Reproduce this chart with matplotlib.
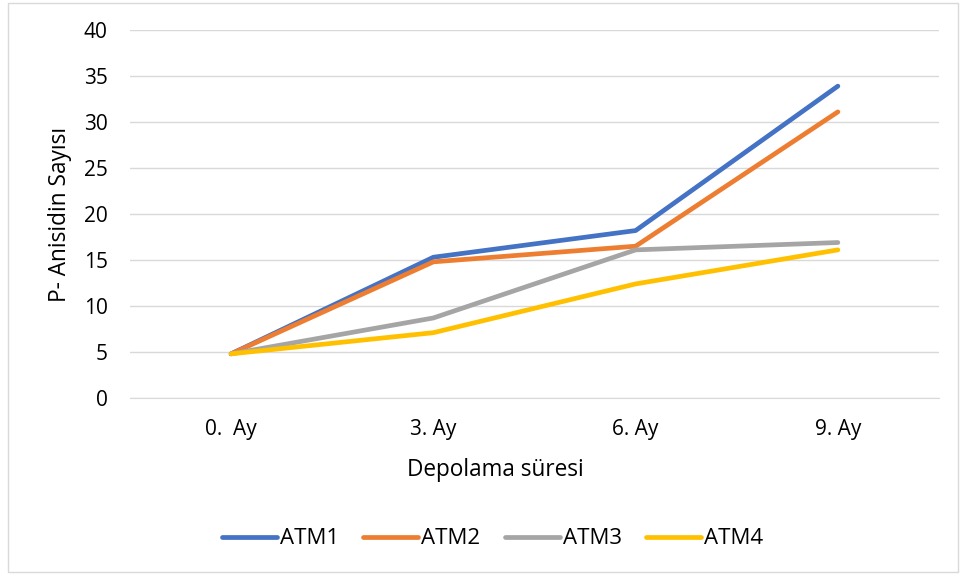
import matplotlib
matplotlib.use("Agg")
import matplotlib.pyplot as plt
from matplotlib.patches import Rectangle

categories = ["0.  Ay", "3. Ay", "6. Ay", "9. Ay"]
atm1 = [4.8, 15.3, 18.2, 33.9]
atm2 = [4.8, 14.8, 16.5, 31.1]
atm3 = [4.8, 8.7, 16.1, 16.9]
atm4 = [4.8, 7.1, 12.4, 16.1]
series_names = ["ATM1", "ATM2", "ATM3", "ATM4"]
colors = ["#4472C4", "#ED7D31", "#A5A5A5", "#FFC000"]
yticks = [0, 5, 10, 15, 20, 25, 30, 35, 40]

plt.rcParams['font.family'] = ['Open Sans', 'DejaVu Sans']

W, H = 965, 578
fig = plt.figure(figsize=(W/100, H/100), dpi=100)
fig.patches.append(Rectangle((8/W, 1-572/H), 950/W, 569/H, transform=fig.transFigure,
                             fill=False, edgecolor="#D9D9D9", linewidth=1))
ax = fig.add_axes([130/W, 1-398/H, 809/W, 368/H])

x = list(range(len(categories)))
for vals, name, c in zip([atm1, atm2, atm3, atm4], series_names, colors):
    ax.plot(x, vals, color=c, linewidth=3.4, solid_capstyle='round', solid_joinstyle='round', label=name)

ax.set_xlim(-0.5, 3.5)
ax.set_ylim(0, 40)
ax.set_yticks(yticks)
ax.set_xticks(x)
ax.set_xticklabels(categories)
ax.yaxis.grid(True, color="#D9D9D9", linewidth=1)
ax.set_axisbelow(True)
for s in ["top", "right", "left"]:
    ax.spines[s].set_visible(False)
ax.spines["bottom"].set_color("#D9D9D9")
ax.tick_params(axis='both', length=0, labelsize=15, colors="#000000")
ax.tick_params(axis='y', pad=16)
ax.tick_params(axis='x', pad=15)
ax.set_xlabel("Depolama süresi", fontsize=16.3)
ax.xaxis.set_label_coords((495-130)/809, (398-470)/368)
ax.xaxis.label.set_va('center')
ax.set_ylabel("P- Anisidin Sayısı", fontsize=16.3)
ax.yaxis.set_label_coords((60-130)/809, 0.5)
ax.yaxis.label.set_va('center')

fig.legend(loc='center', bbox_to_anchor=(492.5/W, 1-539/H), ncol=4, frameon=False,
           fontsize=16, handlelength=2.48, columnspacing=1.1, handletextpad=0.13)

fig.savefig("out.png", dpi=100)
